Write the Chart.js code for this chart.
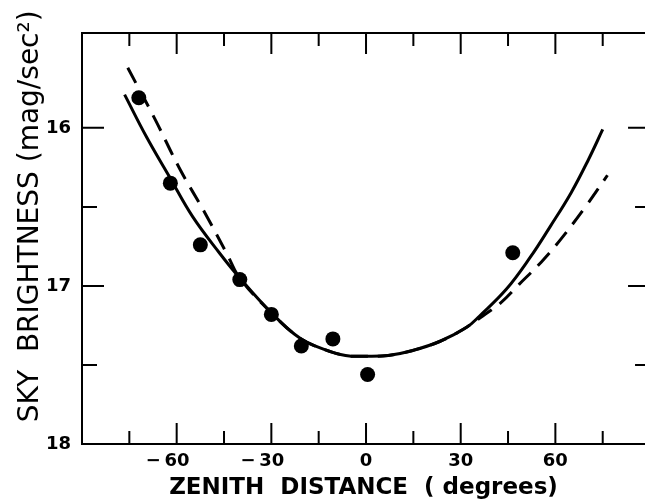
<!DOCTYPE html>
<html>
<head>
<meta charset="utf-8">
<script src="https://cdn.jsdelivr.net/npm/chart.js@4.4.1/dist/chart.umd.min.js"></script>
<style>
html, body { margin: 0; padding: 0; overflow: hidden; background: #fff; }
</style>
</head>
<body>
<canvas id="chart-sky" width="645" height="502"></canvas>
<script>
// measured sky brightness
let obsZenith = [-72, -62, -52.5, -40, -30, -20.5, -10.5, 0.5, 46.5];
let obsMag = [15.81, 16.35, 16.74, 16.96, 17.18, 17.38, 17.335, 17.56, 16.79];

// solid model curve
let solidZenith = [-76.5, -69.5, -62, -55, -46.5, -40, -30, -21, -13.5, -6.5, 0, 7, 14.5, 23.5, 32, 36, 44.5, 52, 58.5, 65, 70.5, 75];
let solidMag = [15.79, 16.06, 16.32, 16.56, 16.79, 16.95, 17.17, 17.33, 17.40, 17.44, 17.445, 17.44, 17.41, 17.35, 17.26, 17.19, 17.02, 16.82, 16.62, 16.41, 16.20, 16.01];

// dashed model curve (runs under the solid one in the middle)
let dashZenith = [-75.5, -67, -59, -51, -44, -40, -30, -21, -13.5, -6.5, 0, 7, 14.5, 23.5, 32, 37, 42.5, 48.5, 55.5, 61.5, 69.5, 76.5];
let dashMag = [15.62, 15.94, 16.26, 16.54, 16.80, 16.95, 17.17, 17.33, 17.40, 17.44, 17.445, 17.44, 17.41, 17.35, 17.26, 17.19, 17.11, 16.99, 16.85, 16.71, 16.50, 16.30];

let xTickMarks = [-75, -60, -45, -30, -15, 0, 15, 30, 45, 60, 75];
let xTickLabels = [-60, -30, 0, 30, 60];
let yTickMarks = [16, 16.5, 17, 17.5];
let yTickLabels = [16, 17, 18];

// frame runs from -90 to 90 deg; the canvas cuts off just short of +90
let xFrame = [-90, 90];
let xVisibleMax = 88.4;

function toPoints(xs, ys) {
    return xs.map(function (x, i) { return {x: x, y: ys[i]}; });
}

// box around the plot with ticks pointing inwards on all four sides
const frameTicks = {
    id: 'frameTicks',
    beforeDatasetsDraw(chart) {
        const ctx = chart.ctx;
        const a = chart.chartArea;
        const xs = chart.scales.x;
        const ys = chart.scales.y;
        const left = xs.getPixelForValue(xFrame[0]);
        const right = xs.getPixelForValue(xFrame[1]);
        ctx.save();
        ctx.strokeStyle = '#000';
        ctx.lineWidth = 2;
        ctx.strokeRect(left, a.top, right - left, a.bottom - a.top);
        ctx.beginPath();
        xTickMarks.forEach(function (v) {
            const px = xs.getPixelForValue(v);
            const len = v % 30 === 0 ? 21 : 13;
            ctx.moveTo(px, a.bottom); ctx.lineTo(px, a.bottom - len);
            ctx.moveTo(px, a.top); ctx.lineTo(px, a.top + len);
        });
        yTickMarks.forEach(function (v) {
            const py = ys.getPixelForValue(v);
            const len = Number.isInteger(v) ? 22 : 15;
            ctx.moveTo(left, py); ctx.lineTo(left + len, py);
            ctx.moveTo(right, py); ctx.lineTo(right - len, py);
        });
        ctx.stroke();
        ctx.restore();
    }
};

var ctx = document.getElementById('chart-sky');
var skyChart = new Chart(ctx, {
    type: 'scatter',
    data: {
        datasets: [{
            data: toPoints(obsZenith, obsMag),
            pointRadius: 7.5,
            pointBackgroundColor: '#000',
            pointBorderWidth: 0,
            showLine: false
        }, {
            data: toPoints(solidZenith, solidMag),
            showLine: true,
            pointRadius: 0,
            borderColor: '#000',
            borderWidth: 3,
            tension: 0.4
        }, {
            data: toPoints(dashZenith, dashMag),
            showLine: true,
            pointRadius: 0,
            borderColor: '#000',
            borderWidth: 3,
            borderDash: [17, 10],
            tension: 0.4
        }]
    },
    options: {
        responsive: false,
        animation: false,
        devicePixelRatio: 1,
        layout: { autoPadding: false, padding: { top: 33, right: 0, left: 0, bottom: 0 } },
        plugins: { legend: { display: false }, tooltip: { enabled: false } },
        scales: {
            x: {
                type: 'linear',
                min: xFrame[0],
                max: xVisibleMax,
                grid: { display: false, drawTicks: false },
                border: { display: false },
                afterBuildTicks: function (s) { s.ticks = xTickMarks.map(function (v) { return {value: v}; }); },
                afterFit: function (s) { s.height = 58; },
                ticks: {
                    autoSkip: false,
                    maxRotation: 0,
                    padding: 7,
                    color: '#000',
                    font: { family: 'DejaVu Sans', size: 18, weight: 'bold', lineHeight: 1.2 },
                    callback: function (v) {
                        if (xTickLabels.indexOf(v) < 0) return '';
                        return v < 0 ? '\u2212\u2009' + (-v) + '\u2002\u2002' : String(v);
                    }
                },
                title: {
                    display: true,
                    text: 'ZENITH  DISTANCE  ( degrees)',
                    color: '#000',
                    font: { family: 'DejaVu Sans', size: 23, weight: 'bold', lineHeight: 1 },
                    padding: { top: 0, bottom: 2 }
                }
            },
            y: {
                type: 'linear',
                reverse: true,
                min: 15.4,
                max: 18,
                grid: { display: false, drawTicks: false },
                border: { display: false },
                afterBuildTicks: function (s) { s.ticks = yTickMarks.concat([18]).map(function (v) { return {value: v}; }); },
                afterFit: function (s) { s.width = 82; },
                ticks: {
                    padding: 11,
                    color: '#000',
                    font: { family: 'DejaVu Sans', size: 18, weight: 'bold' },
                    callback: function (v) { return yTickLabels.indexOf(v) < 0 ? '' : String(v); }
                },
                title: {
                    display: true,
                    text: '\u00a0\u00a0\u00a0\u00a0\u00a0SKY  BRIGHTNESS (mag/sec\u00b2)',
                    color: '#000',
                    font: { family: 'DejaVu Sans', size: 28, lineHeight: 1 },
                    padding: { top: 17, bottom: 0 }
                }
            }
        }
    },
    plugins: [frameTicks]
});
</script>
</body>
</html>
